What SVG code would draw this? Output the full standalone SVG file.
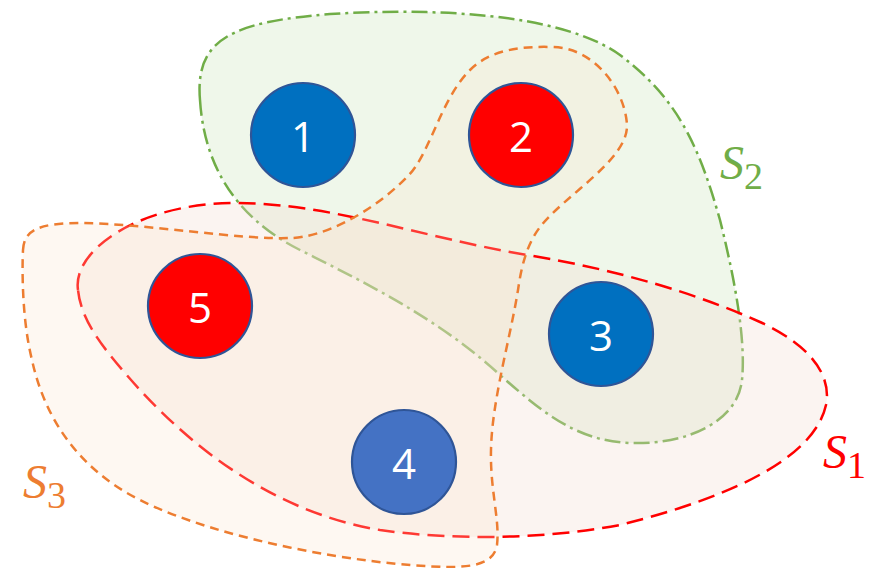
<svg xmlns="http://www.w3.org/2000/svg" width="884" height="568" viewBox="0 0 884 568">
  <style>
    .set { stroke-width: 2.5; stroke-linejoin: round; }
    .s2 { fill: #E2F0D9; fill-opacity: 0.55; stroke: #70AD47; stroke-dasharray: 16 5 3 5; }
    .s1 { fill: #F2DCD2; fill-opacity: 0.3; stroke: #FF0000; stroke-dasharray: 17 8; }
    .s3 { fill: #FDE4CC; fill-opacity: 0.25; stroke: #ED7D31; stroke-dasharray: 9 6; }
    .node circle { stroke: #2F5597; stroke-width: 2.2; }
    .node text { fill: #FFFFFF; font-family: "Open Sans", "Liberation Sans", sans-serif; font-size: 42px; text-anchor: middle; }
    .lbl { font-family: "Liberation Serif", "DejaVu Serif", serif; font-style: italic; font-size: 48px; }
    .lbl tspan { font-style: normal; font-size: 38px; }
  </style>

  <rect width="884" height="568" fill="#FFFFFF"/>

  <!-- set outlines (drawn as the linking shapes) -->
  <g id="connectors">
    <path id="set-S2" class="set s2" d="M 200,100 C 195,40 230,22 330,14 C 430,8 560,12 620,55 C 680,100 700,150 720,220 C 735,280 746,340 742,380 C 738,420 690,445 630,443 C 575,441 540,410 500,375 C 440,320 370,285 300,250 C 250,225 205,180 200,100 Z"/>
    <path id="set-S1" class="set s1" d="M 78,290 C 72,250 140,203 235,203 C 330,203 420,237 527,255 C 620,270 700,295 760,322 C 810,345 832,375 826,405 C 815,455 740,495 620,525 C 540,540 450,540 380,530 C 260,510 170,430 110,355 C 90,330 80,310 78,290 Z"/>
    <path id="set-S3" class="set s3" d="M 23,250 C 24,232 35,223 80,223 C 150,224 240,240 290,238 C 320,238 370,215 407,177 C 430,155 440,100 470,70 C 490,50 520,46 553,47 C 595,48 625,90 627,125 C 628,160 565,195 540,227 C 528,243 522,262 518,290 C 510,340 492,400 491,450 C 490,490 500,520 497,545 C 494,565 470,567 447,567 C 360,565 220,540 140,500 C 80,470 45,420 32,360 C 22,320 22,270 23,250 Z"/>
  </g>

  <!-- set labels -->
  <text class="lbl" x="720" y="179" fill="#70AD47">S<tspan dy="10">2</tspan></text>
  <text class="lbl" x="823" y="468" fill="#FF0000">S<tspan dy="10">1</tspan></text>
  <text class="lbl" x="23" y="498" fill="#ED7D31">S<tspan dy="10">3</tspan></text>

  <!-- element nodes -->
  <g id="node-1" class="node">
    <circle cx="303" cy="135" r="52" fill="#0070C0"/>
    <text x="303" y="152">1</text>
  </g>
  <g id="node-2" class="node">
    <circle cx="521" cy="135" r="52" fill="#FF0000"/>
    <text x="521" y="152">2</text>
  </g>
  <g id="node-3" class="node">
    <circle cx="601" cy="334" r="52" fill="#0070C0"/>
    <text x="601" y="351">3</text>
  </g>
  <g id="node-4" class="node">
    <circle cx="404" cy="462" r="52" fill="#4472C4"/>
    <text x="404" y="479">4</text>
  </g>
  <g id="node-5" class="node">
    <circle cx="200" cy="306" r="52" fill="#FF0000"/>
    <text x="200" y="323">5</text>
  </g>
</svg>
